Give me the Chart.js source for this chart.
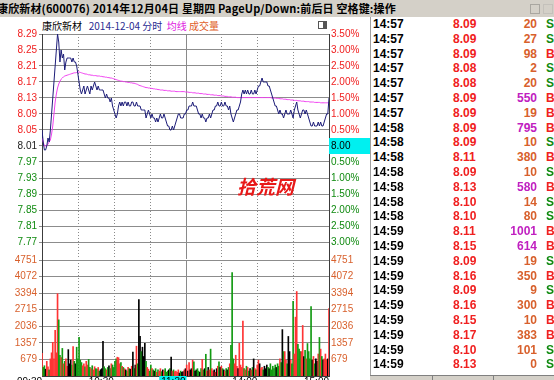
<!DOCTYPE html>
<html>
<head>
<meta charset="utf-8">
<script src="https://cdn.jsdelivr.net/npm/chart.js@4.4.1/dist/chart.umd.min.js"></script>
<style>
html, body { margin: 0; padding: 0; width: 554px; height: 380px; overflow: hidden; background: #fff; }
body { position: relative; font-family: "Liberation Sans", Arial, sans-serif; }
#titlebar { position: absolute; left: 0; top: 0; width: 554px; height: 17px; background: #d4d0c8; }
#titletext { position: absolute; left: -3px; top: 0; font: bold 11px "Noto Sans CJK SC"; line-height: 17px; white-space: nowrap; color: #000; letter-spacing: 0.15px; }
.wicon { position: absolute; top: 4px; width: 8px; height: 8px; border: 1px solid #a9a6a0; }
#head { position: absolute; left: 42px; top: 19px; font: 10px "Noto Sans CJK SC"; white-space: nowrap; line-height: 14px; }
#boxicon { position: absolute; left: 318px; top: 21px; width: 7px; height: 6px; border: 1px solid #555; }
#boxicon i { position: absolute; right: 0; top: 0; width: 3px; height: 6px; background: #555; }
canvas { position: absolute; left: 0; }
#price { top: 18px; }
#vol { top: 250px; }
#mark { position: absolute; left: 237px; top: 172px; font: italic bold 19px "Noto Sans CJK SC"; color: #e81818; }
#list { position: absolute; left: 370px; top: 17px; width: 184px; height: 358px; border-left: 1px solid #a0a0a0; }
.row { position: absolute; left: 0; width: 184px; height: 15px; font: bold 12px "Liberation Sans"; line-height: 15px; white-space: nowrap; }
.row span { position: absolute; }
#tabs { position: absolute; left: 370px; top: 375px; width: 184px; height: 10px; background: #d4d0c8; border-top: 1px solid #808080; font: 10px "Noto Sans CJK SC"; }
#tabs span { position: absolute; top: 1px; }
#tabs b { position: absolute; top: 0; width: 1px; height: 10px; background: #808080; }
</style>
</head>
<body>
<div id="titlebar">
  <div id="titletext">康欣新材(600076) 2014年12月04日 星期四 PageUp/Down:前后日 空格键:操作</div>
  <div class="wicon" style="left:530px"></div>
  <div class="wicon" style="left:543px;border-color:#c4c1bb"></div>
</div>
<div id="head"><span style="color:#000">康欣新材</span>&nbsp;&nbsp;&nbsp;<span style="color:#2a2a90">2014-12-04 分时</span>&nbsp;&nbsp;<span style="color:#e020e0">均线</span>&nbsp;<span style="color:#e0602a">成交量</span></div>
<div id="boxicon"><i></i></div>
<canvas id="price" width="370" height="250"></canvas>
<canvas id="vol" width="370" height="150"></canvas>
<div id="mark">拾荒网</div>
<div id="list"></div>
<div id="tabs">
  <span style="left:20px;color:#e01010">分笔</span><b style="left:62px"></b>
  <span style="left:80px">分价</span><b style="left:123px"></b>
  <span style="left:143px">指标</span>
</div>
<script>
// 昨收
const prevClose = 8.00;

// 每分钟价格 (09:30 - 15:00)
const prices = [
  8.05, 8.02, 8.00, 8.00, 8.01, 8.03, 8.02, 8.05, 8.09, 8.13,
  8.17, 8.21, 8.25, 8.29, 8.27, 8.22, 8.25, 8.23, 8.24, 8.20,
  8.22, 8.23, 8.23, 8.23, 8.23, 8.22, 8.23, 8.22, 8.22, 8.21,
  8.19, 8.17, 8.15, 8.14, 8.15, 8.16, 8.14, 8.15, 8.16, 8.15,
  8.14, 8.16, 8.15, 8.16, 8.17, 8.16, 8.15, 8.16, 8.15, 8.15,
  8.15, 8.15, 8.14, 8.13, 8.14, 8.13, 8.13, 8.12, 8.13, 8.11,
  8.10, 8.09, 8.08, 8.09, 8.11, 8.12, 8.11, 8.12, 8.11, 8.12,
  8.12, 8.11, 8.12, 8.11, 8.11, 8.12, 8.12, 8.11, 8.11, 8.12,
  8.11, 8.11, 8.11, 8.10, 8.10, 8.10, 8.10, 8.08, 8.09, 8.10,
  8.09, 8.08, 8.09, 8.08, 8.08, 8.07, 8.08, 8.07, 8.08, 8.09,
  8.08, 8.08, 8.09, 8.08, 8.07, 8.06, 8.06, 8.05, 8.05, 8.06,
  8.05, 8.06, 8.07, 8.08, 8.09, 8.09, 8.08, 8.08, 8.08, 8.09,
  8.09, 8.10, 8.10, 8.11, 8.11, 8.11, 8.12, 8.11, 8.11, 8.11,
  8.10, 8.09, 8.09, 8.08, 8.09, 8.08, 8.08, 8.07, 8.08, 8.08,
  8.09, 8.08, 8.09, 8.10, 8.10, 8.11, 8.11, 8.12, 8.11, 8.11,
  8.12, 8.11, 8.11, 8.12, 8.11, 8.11, 8.10, 8.11, 8.09, 8.08,
  8.07, 8.08, 8.09, 8.10, 8.10, 8.11, 8.12, 8.14, 8.15, 8.14,
  8.15, 8.14, 8.15, 8.14, 8.14, 8.15, 8.14, 8.14, 8.15, 8.14,
  8.15, 8.16, 8.16, 8.17, 8.18, 8.17, 8.17, 8.17, 8.17, 8.16,
  8.16, 8.15, 8.14, 8.13, 8.12, 8.11, 8.11, 8.10, 8.09, 8.10,
  8.09, 8.09, 8.08, 8.09, 8.10, 8.09, 8.09, 8.09, 8.10, 8.09,
  8.08, 8.10, 8.11, 8.12, 8.10, 8.09, 8.08, 8.09, 8.10, 8.10,
  8.09, 8.10, 8.09, 8.08, 8.07, 8.06, 8.06, 8.07, 8.06, 8.06,
  8.06, 8.07, 8.06, 8.07, 8.06, 8.06, 8.07, 8.08, 8.09, 8.09, 8.13
];

// 均价线
const avgPrices = [
  8.030, 8.020, 8.010, 8.010, 8.010, 8.015, 8.020, 8.025, 8.040, 8.060,
  8.090, 8.120, 8.140, 8.155, 8.165, 8.172, 8.177, 8.180, 8.183, 8.185,
  8.186, 8.187, 8.188, 8.189, 8.190, 8.191, 8.192, 8.193, 8.193, 8.194,
  8.195, 8.195, 8.194, 8.193, 8.192, 8.191, 8.190, 8.190, 8.189, 8.188,
  8.188, 8.187, 8.187, 8.186, 8.186, 8.186, 8.185, 8.185, 8.185, 8.184,
  8.184, 8.183, 8.183, 8.182, 8.182, 8.181, 8.181, 8.180, 8.180, 8.179,
  8.178, 8.177, 8.176, 8.175, 8.174, 8.173, 8.172, 8.172, 8.171, 8.171,
  8.170, 8.170, 8.169, 8.169, 8.168, 8.168, 8.167, 8.167, 8.166, 8.165,
  8.164, 8.162, 8.161, 8.160, 8.159, 8.158, 8.157, 8.156, 8.156, 8.155,
  8.155, 8.154, 8.154, 8.153, 8.153, 8.152, 8.152, 8.151, 8.151, 8.150,
  8.150, 8.150, 8.149, 8.149, 8.149, 8.148, 8.148, 8.148, 8.147, 8.147,
  8.147, 8.147, 8.146, 8.146, 8.146, 8.146, 8.146, 8.146, 8.146, 8.146,
  8.145, 8.145, 8.145, 8.144, 8.144, 8.144, 8.143, 8.143, 8.143, 8.142,
  8.142, 8.142, 8.141, 8.141, 8.141, 8.140, 8.140, 8.140, 8.139, 8.139,
  8.139, 8.138, 8.138, 8.138, 8.137, 8.137, 8.137, 8.136, 8.136, 8.136,
  8.135, 8.135, 8.135, 8.134, 8.134, 8.134, 8.133, 8.133, 8.133, 8.132,
  8.132, 8.132, 8.132, 8.131, 8.131, 8.131, 8.131, 8.131, 8.131, 8.131,
  8.131, 8.131, 8.131, 8.131, 8.131, 8.131, 8.131, 8.131, 8.131, 8.131,
  8.131, 8.131, 8.131, 8.131, 8.131, 8.131, 8.131, 8.131, 8.131, 8.131,
  8.131, 8.131, 8.130, 8.130, 8.130, 8.130, 8.129, 8.129, 8.129, 8.128,
  8.128, 8.128, 8.127, 8.127, 8.127, 8.126, 8.126, 8.126, 8.125, 8.125,
  8.125, 8.124, 8.124, 8.124, 8.123, 8.123, 8.123, 8.122, 8.122, 8.122,
  8.121, 8.121, 8.121, 8.121, 8.120, 8.120, 8.120, 8.120, 8.119, 8.119,
  8.119, 8.119, 8.119, 8.118, 8.118, 8.118, 8.118, 8.118, 8.118, 8.118, 8.118
];

// 每分钟成交量(手)
const volumes = [
  930, 350, 420, 280, 600, 380, 250, 700, 950, 1380,
  700, 1870, 950, 3370, 2300, 850, 750, 1130, 500, 600,
  700, 400, 1080, 500, 650, 450, 1200, 600, 500, 1180,
  700, 1580, 650, 550, 420, 500, 380, 600, 450, 680,
  350, 300, 420, 250, 380, 300, 280, 350, 200, 260,
  300, 1420, 380, 300, 250, 350, 420, 300, 500, 450,
  350, 600, 700, 770, 750, 500, 550, 400, 350, 300,
  250, 200, 350, 300, 280, 400, 980, 300, 450, 1220,
  500, 3130, 1620, 1000, 1180, 800, 1340, 600, 350, 280,
  200, 450, 300, 250, 200, 300, 150, 250, 200, 300,
  180, 250, 200, 300, 150, 200, 250, 300, 770, 200,
  250, 180, 200, 150, 250, 120, 200, 150, 180, 250,
  300, 450, 200, 550, 250, 300, 650, 580, 200, 250,
  300, 200, 150, 300, 680, 250, 300, 890, 200, 350,
  250, 1100, 300, 200, 250, 150, 300, 400, 580, 350,
  400, 300, 250, 200, 300, 250, 350, 500, 1260, 4240,
  700, 500, 850, 400, 300, 1340, 450, 350, 2250, 300,
  250, 400, 350, 200, 300, 250, 350, 700, 300, 250,
  450, 650, 500, 300, 350, 250, 400, 300, 450, 350,
  300, 500, 250, 400, 300, 450, 350, 500, 400, 700,
  550, 1900, 1000, 1000, 650, 500, 1620, 1000, 650, 500,
  3060, 900, 2410, 3460, 1300, 1100, 1000, 1000, 2070, 800,
  1050, 700, 1330, 1000, 700, 2840, 650, 800, 500, 700,
  600, 900, 1580, 1100, 800, 650, 700, 900, 650, 700, 2760
];

// 坐标轴刻度
const priceTicks = [7.77, 7.81, 7.85, 7.89, 7.93, 7.97, 8.01, 8.05, 8.09, 8.13, 8.17, 8.21, 8.25, 8.29];
const pctLabels = ['3.00%', '2.50%', '2.00%', '1.50%', '1.00%', '0.50%', '8.00', '0.50%', '1.00%', '1.50%', '2.00%', '2.50%', '3.00%', '3.50%'];
const volTicks = [679, 1357, 2036, 2715, 3394, 4072, 4751];
const timeTicks = [0, 60, 120, 180, 240];
const timeLabels = ['09:30', '10:30', '11:30', '14:00', '15:00'];

// 分笔成交
const tradeTimes = ['14:57', '14:57', '14:57', '14:57', '14:57', '14:57', '14:57', '14:58', '14:58', '14:58', '14:58', '14:58',
  '14:58', '14:58', '14:59', '14:59', '14:59', '14:59', '14:59', '14:59', '14:59', '14:59', '14:59', '14:59'];
const tradePrices = ['8.09', '8.09', '8.09', '8.08', '8.08', '8.09', '8.09', '8.09', '8.09', '8.11', '8.09', '8.13',
  '8.10', '8.10', '8.11', '8.15', '8.09', '8.16', '8.09', '8.16', '8.15', '8.17', '8.10', '8.13'];
const tradeVols = [20, 27, 98, 2, 20, 550, 19, 795, 10, 380, 10, 580, 14, 80, 1001, 614, 19, 350, 9, 300, 10, 383, 101, 0];
const tradeSides = ['S', 'S', 'B', 'S', 'S', 'B', 'B', 'B', 'S', 'B', 'S', 'B', 'S', 'S', 'B', 'B', 'S', 'B', 'S', 'B', 'B', 'B', 'S', 'S'];

const RED = '#f02020';
const GREEN = '#108a10';
const ORANGE = '#d8602c';
const labelFont = { family: 'Liberation Sans', size: 10 };

// 涨红跌绿平黑
const volColors = volumes.map((v, i) => {
  const prev = i === 0 ? prevClose : prices[i - 1];
  if (prices[i] > prev) return '#ff3434';
  if (prices[i] < prev) return '#129a12';
  return '#000000';
});

// 每30分钟的竖线, 中午收盘为实线
const timeGrid = {
  id: 'timeGrid',
  beforeDatasetsDraw(chart) {
    const { ctx, chartArea: a, scales: { x } } = chart;
    ctx.save();
    ctx.strokeStyle = '#8a8a8a';
    ctx.lineWidth = 1;
    [30, 60, 90, 120, 150, 180, 210].forEach(m => {
      const px = Math.round(x.getPixelForValue(m)) + 0.5;
      ctx.setLineDash(m === 120 ? [] : [1, 2]);
      ctx.beginPath();
      ctx.moveTo(px, a.top);
      ctx.lineTo(px, a.bottom);
      ctx.stroke();
    });
    ctx.restore();
  }
};

const setTicks = list => scale => { scale.ticks = list.map(v => ({ value: v })); };

new Chart(document.getElementById('price'), {
  type: 'line',
  data: {
    datasets: [
      {
        data: prices.map((p, i) => ({ x: i, y: p })),
        borderColor: '#1c1c78',
        borderWidth: 1,
        pointRadius: 0,
        tension: 0
      },
      {
        data: avgPrices.map((p, i) => ({ x: i, y: p })),
        borderColor: '#f040f0',
        borderWidth: 1,
        pointRadius: 0,
        tension: 0
      }
    ]
  },
  options: {
    responsive: false,
    animation: false,
    events: [],
    layout: { padding: { top: 16, bottom: 9, left: 0, right: 0 } },
    plugins: { legend: { display: false }, tooltip: { enabled: false } },
    scales: {
      x: { type: 'linear', min: 0, max: 240, display: false },
      y: {
        position: 'left',
        min: 7.7275,
        max: 8.29,
        afterBuildTicks: setTicks(priceTicks),
        afterFit: s => { s.width = 42; },
        ticks: {
          font: labelFont,
          padding: 2,
          color: c => c.index < 6 ? GREEN : c.index === 6 ? '#202020' : RED,
          callback: v => v.toFixed(2)
        },
        grid: { color: '#8c8c8c', tickLength: 3, tickColor: '#8c8c8c' },
        border: { color: '#3c3c3c' }
      },
      y2: {
        position: 'right',
        min: 7.7275,
        max: 8.29,
        afterBuildTicks: setTicks(priceTicks),
        afterFit: s => { s.width = 41; },
        ticks: {
          font: labelFont,
          padding: 2,
          color: c => c.index < 6 ? GREEN : c.index === 6 ? '#000' : RED,
          callback: (v, i) => pctLabels[i],
          showLabelBackdrop: c => c.index === 6,
          backdropColor: '#00f0f0',
          backdropPadding: { left: 2, right: 21, top: 2, bottom: 2 }
        },
        grid: { drawOnChartArea: false, drawTicks: false },
        border: { color: '#3c3c3c' }
      }
    }
  },
  plugins: [timeGrid]
});

new Chart(document.getElementById('vol'), {
  type: 'bar',
  data: {
    datasets: [{
      data: volumes.map((v, i) => ({ x: i, y: v })),
      backgroundColor: volColors,
      barThickness: 1
    }]
  },
  options: {
    responsive: false,
    animation: false,
    events: [],
    layout: { padding: { top: 10, bottom: 0, left: 0, right: 0 } },
    plugins: { legend: { display: false }, tooltip: { enabled: false } },
    scales: {
      x: {
        type: 'linear',
        min: 0,
        max: 240,
        offset: false,
        afterBuildTicks: setTicks(timeTicks),
        afterFit: s => { s.height = 24; },
        ticks: {
          font: labelFont,
          color: '#000',
          align: 'end',
          maxRotation: 0,
          autoSkip: false,
          padding: 0,
          callback: (v, i) => timeLabels[i],
          showLabelBackdrop: c => c.index === 2,
          backdropColor: '#00f0f0',
          backdropPadding: { left: 2, right: 1, top: 2, bottom: 1 }
        },
        grid: { display: false, drawTicks: false },
        border: { color: '#3c3c3c' }
      },
      y: {
        position: 'left',
        min: 0,
        max: 4751,
        afterBuildTicks: setTicks(volTicks),
        afterFit: s => { s.width = 42; },
        ticks: { font: labelFont, padding: 2, color: ORANGE, callback: v => String(v) },
        grid: { color: '#8c8c8c', tickLength: 3, tickColor: '#8c8c8c' },
        border: { color: '#3c3c3c' }
      },
      y2: {
        position: 'right',
        min: 0,
        max: 4751,
        afterBuildTicks: setTicks(volTicks),
        afterFit: s => { s.width = 41; },
        ticks: { font: labelFont, padding: 2, color: ORANGE, callback: v => String(v) },
        grid: { drawOnChartArea: false, drawTicks: false },
        border: { color: '#3c3c3c' }
      }
    }
  },
  plugins: [timeGrid]
});

// 右侧分笔列表
const list = document.getElementById('list');
tradeTimes.forEach((t, i) => {
  const row = document.createElement('div');
  row.className = 'row';
  row.style.top = (i * 14.8) + 'px';
  const volColor = tradeVols[i] >= 500 ? '#c020c0' : ORANGE;
  const sideColor = tradeSides[i] === 'B' ? RED : GREEN;
  row.innerHTML =
    `<span style="left:2px;color:#000">${t}</span>` +
    `<span style="left:82px;color:${RED}">${tradePrices[i]}</span>` +
    `<span style="right:18px;color:${volColor}">${tradeVols[i]}</span>` +
    `<span style="left:175px;color:${sideColor}">${tradeSides[i]}</span>`;
  list.appendChild(row);
});
</script>
</body>
</html>
